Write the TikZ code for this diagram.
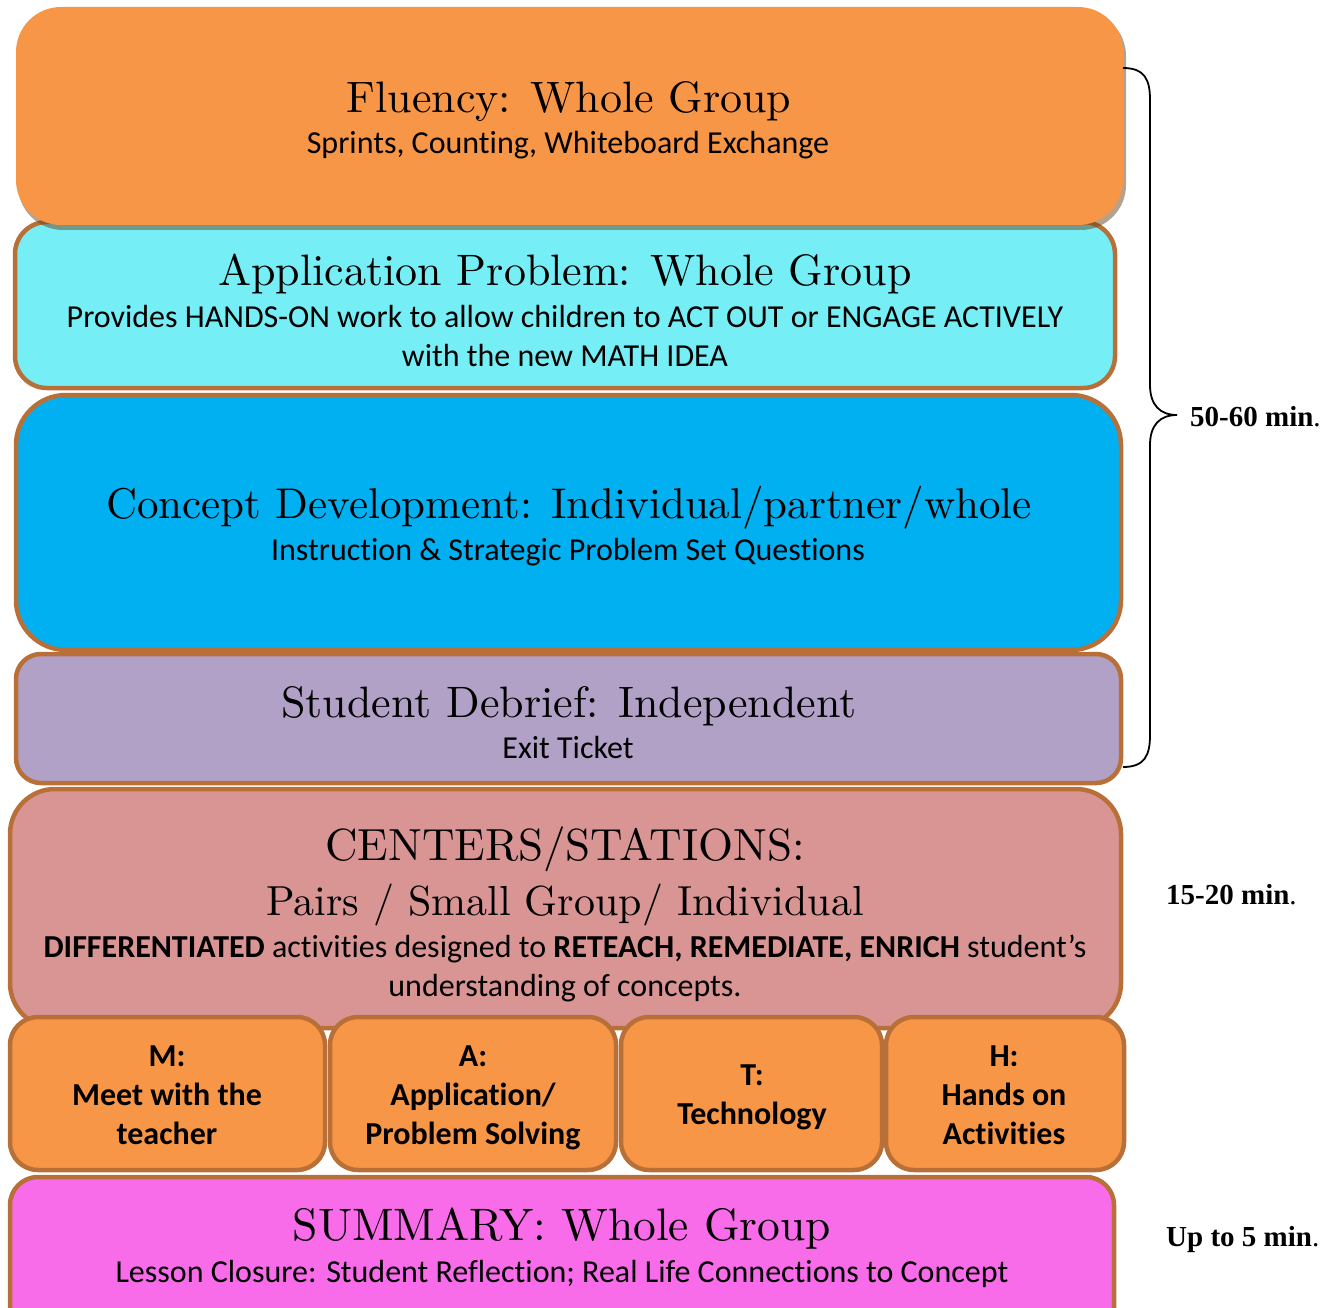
\documentclass[tikz,border=0pt]{standalone}
\usepackage{fontspec}
\setsansfont{Carlito}[Ligatures=NoCommon]
\newfontfamily\timefont{Liberation Serif}
\newfontfamily\headfont[Extension=.otf]{lmroman10-regular}

\definecolor{edge}{RGB}{184,112,56}
\definecolor{fluorange}{RGB}{247,150,70}
\definecolor{appcyan}{RGB}{118,238,245}
\definecolor{conblue}{RGB}{0,176,240}
\definecolor{debviolet}{RGB}{178,161,199}
\definecolor{cenrose}{RGB}{217,149,148}
\definecolor{summagenta}{RGB}{248,107,233}

\tikzset{
  band/.style={draw=edge, line width=4.5pt},
  heading/.style={font=\headfont\fontsize{44}{50}\selectfont, anchor=base, inner sep=0pt},
  detail/.style={font=\sffamily\fontsize{32}{39}\selectfont, anchor=base, align=center, inner sep=0pt},
  station/.style={font=\sffamily\bfseries\fontsize{32}{39}\selectfont, anchor=base, align=center, inner sep=0pt},
  duration/.style={font=\timefont\bfseries\fontsize{29}{30}\selectfont, anchor=base west, inner sep=0pt},
}

\begin{document}
\begin{tikzpicture}[x=1pt,y=-1pt]
\useasboundingbox (0,0) rectangle (1336,1308);
\clip (0,0) rectangle (1336,1308);

% Application problem band (sits under the fluency band)
\draw[band, fill=appcyan, rounded corners=32pt] (15,222) rectangle (1115,388);
% Fluency band with soft drop shadow
\fill[black!45!brown, opacity=0.5, rounded corners=45pt] (18,11) rectangle (1126,230);
\fill[fluorange, rounded corners=45pt] (16,7) rectangle (1123,225);
% Concept development band
\draw[band, fill=conblue, rounded corners=50pt] (16,395) rectangle (1121,650);
% Student debrief band
\draw[band, fill=debviolet, rounded corners=25pt] (16,654) rectangle (1121,783);
% Centers / stations band
\draw[band, fill=cenrose, rounded corners=45pt] (10,789) rectangle (1121,1028);
% M.A.T.H. station boxes
\draw[band, fill=fluorange, rounded corners=28pt] (10,1017) rectangle (325,1170);
\draw[band, fill=fluorange, rounded corners=28pt] (330,1017) rectangle (616,1170);
\draw[band, fill=fluorange, rounded corners=28pt] (621,1017) rectangle (882,1170);
\draw[band, fill=fluorange, rounded corners=28pt] (886,1017) rectangle (1124,1170);
% Summary band
\draw[band, fill=summagenta, rounded corners=28pt] (10,1177) rectangle (1114,1340);

% Texts (multi-line nodes are placed by the baseline of their last line)
\node[heading] (fluT) at (569,113) {Fluency: Whole Group};
\node[detail] (fluS) at (568,154) {Sprints, Counting, Whiteboard Exchange};

\node[heading] (appT) at (565,285) {Application Problem: Whole Group};
\node[detail] (appS) at (565,366) {Provides HANDS-ON work to allow children to ACT OUT or ENGAGE ACTIVELY\\with the new MATH IDEA};

\node[heading, font=\headfont\fontsize{43}{50}\selectfont] (conT) at (569,518) {Concept Development: Individual/partner/whole};
\node[detail] (conS) at (568,560) {Instruction \& Strategic Problem Set Questions};

\node[heading] (debT) at (569,717) {Student Debrief: Independent};
\node[detail] (debS) at (568,758) {Exit Ticket};

\node[heading, font=\headfont\fontsize{45}{50}\selectfont] (cenT) at (565,860) {CENTERS/STATIONS:};
\node[heading, font=\headfont\fontsize{42}{50}\selectfont] (cenU) at (565,915) {Pairs / Small Group/ Individual};
\node[detail] (cenS) at (565,996) {\textbf{DIFFERENTIATED} activities designed to \textbf{RETEACH, REMEDIATE, ENRICH} student’s\\understanding of concepts.};

\node[station] (stM) at (167,1144) {M:\\Meet with the\\teacher};
\node[station] (stA) at (473,1144) {A:\\Application/\\Problem Solving};
\node[station] (stT) at (752,1124) {T:\\Technology};
\node[station] (stH) at (1004,1144) {H:\\Hands on\\Activities};

\node[heading, font=\headfont\fontsize{45.5}{50}\selectfont] (sumT) at (562,1240) {SUMMARY: Whole Group};
\node[detail] (sumS) at (562,1282) {Lesson Closure: Student Reflection; Real Life Connections to Concept};

% Brace spanning the first four bands
\coordinate (bTop) at (1123,68);
\coordinate (bTip) at (1177,415);
\coordinate (bBot) at (1123,767);
\draw[line width=1.8pt] (bTop) .. controls (1145,68) and (1150,80) .. (1150,100)
  -- (1150,385) .. controls (1150,405) and (1160,415) .. (bTip)
  .. controls (1160,415) and (1150,425) .. (1150,445)
  -- (1150,735) .. controls (1150,755) and (1145,767) .. (bBot);

\node[duration] (t1) at (1190,426) {50-60 min\mdseries.};
\node[duration] (t2) at (1166,904) {15-20 min\mdseries.};
\node[duration] (t3) at (1166,1246) {Up to 5 min\mdseries.};
\end{tikzpicture}
\end{document}
